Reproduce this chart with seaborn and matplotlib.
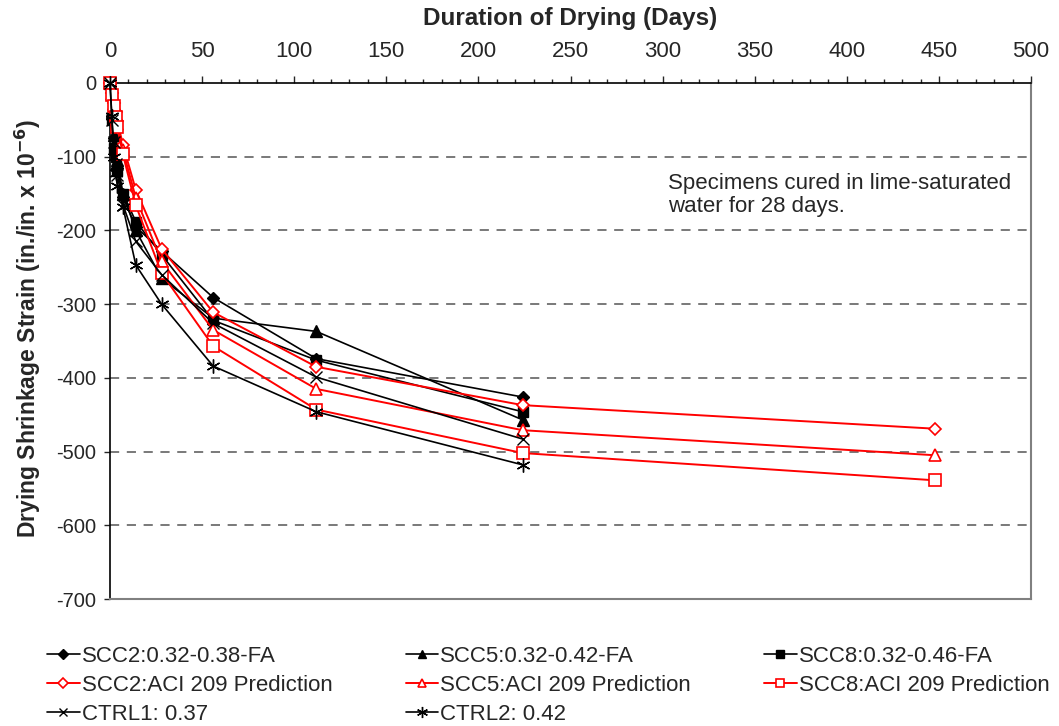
import matplotlib
matplotlib.use("Agg")
import matplotlib.pyplot as plt
from matplotlib.ticker import MultipleLocator
import seaborn as sns

# Measured drying shrinkage (microstrain) and ACI 209 predictions
days_meas = [0, 1, 2, 3, 4, 7, 14, 28, 56, 112, 224]
days_aci = [0, 1, 2, 3, 4, 7, 14, 28, 56, 112, 224, 448]

scc2_meas = [0, -45, -75, -95, -115, -155, -195, -228, -291, -374, -426]
scc5_meas = [0, -40, -70, -90, -105, -150, -200, -265, -319, -337, -457]
scc8_meas = [0, -50, -88, -100, -120, -150, -188, -233, -322, -376, -446]
scc2_aci = [0, -14, -27, -40, -52, -84, -145, -225, -311, -385, -437, -469]
scc5_aci = [0, -15, -29, -43, -56, -91, -156, -242, -335, -415, -471, -505]
scc8_aci = [0, -16, -31, -46, -60, -97, -166, -258, -357, -443, -502, -539]
ctrl1_meas = [0, -50, -80, -110, -125, -165, -215, -260, -326, -399, -483]
ctrl2_meas = [0, -45, -100, -122, -140, -168, -247, -300, -384, -446, -518]

labels = ["SCC2:0.32-0.38-FA", "SCC5:0.32-0.42-FA", "SCC8:0.32-0.46-FA",
          "SCC2:ACI 209 Prediction", "SCC5:ACI 209 Prediction", "SCC8:ACI 209 Prediction",
          "CTRL1: 0.37", "CTRL2: 0.42"]

sns.set_style("ticks")
plt.rcParams["font.family"] = ["Liberation Sans", "DejaVu Sans"]
plt.rcParams["axes.unicode_minus"] = False

fig = plt.figure(figsize=(10.59, 7.26), dpi=100)
ax = fig.add_axes([0.1039, 0.1749, 0.8697, 0.7108])

blk = dict(color="black", mec="black", mfc="black", mew=1.0, lw=1.2)
red = dict(color="red", mec="red", mfc="white", mew=1.2, lw=1.4)
series = [
    (days_meas, scc2_meas, labels[0], dict(marker="D", markersize=6, **blk)),
    (days_meas, scc5_meas, labels[1], dict(marker="^", markersize=8, **blk)),
    (days_meas, scc8_meas, labels[2], dict(marker="s", markersize=7, **blk)),
    (days_aci, scc2_aci, labels[3], dict(marker="D", markersize=6.5, **red)),
    (days_aci, scc5_aci, labels[4], dict(marker="^", markersize=8, **red)),
    (days_aci, scc8_aci, labels[5], dict(marker="s", markersize=8, **red)),
    (days_meas, ctrl1_meas, labels[6], dict(marker="x", markersize=8, **blk)),
    (days_meas, ctrl2_meas, labels[7], dict(marker=(6, 2, 0), markersize=10, **blk)),
]

for x, y, lab, kw in series:
    sns.lineplot(x=x, y=y, ax=ax, label=lab, clip_on=False, zorder=3, **kw)

h, l = ax.get_legend_handles_labels()
hmap = dict(zip(l, h))
ax.get_legend().remove()

ax.set_xlim(0, 500)
ax.set_ylim(-700, 0)
ax.xaxis.set_major_locator(MultipleLocator(50))
ax.xaxis.set_minor_locator(MultipleLocator(10))
ax.yaxis.set_major_locator(MultipleLocator(100))
ax.xaxis.tick_top()
ax.xaxis.set_label_position("top")
ax.tick_params(axis="x", which="major", length=5, width=1, labelsize=16, pad=10, direction="out")
ax.tick_params(axis="x", which="minor", length=3, width=1, direction="out")
ax.tick_params(axis="y", which="major", length=4, width=1, labelsize=14.5, pad=6, direction="out")

for yv in range(-600, 0, 100):
    ax.axhline(yv, color="#555555", lw=1.1, ls=(0, (6, 5)), zorder=1)

for side in ("top", "left"):
    ax.spines[side].set_color("black")
    ax.spines[side].set_linewidth(1.2)
for side in ("right", "bottom"):
    ax.spines[side].set_color("#808080")
    ax.spines[side].set_linewidth(1.5)

ax.set_xlabel("Duration of Drying (Days)", fontsize=17.5, fontweight="bold")
ax.set_ylabel("Drying Shrinkage Strain (in./in. x 10$^{\\mathbf{-6}}$)", fontsize=16.5,
              fontweight="bold")
ax.xaxis.set_label_coords(0.5, 1.125)
ax.xaxis.label.set_va("center")
ax.yaxis.set_label_coords(-0.089, 0.525)
ax.yaxis.label.set_va("center")

ax.text(303, -122, "Specimens cured in lime-saturated\nwater for 28 days.",
        fontsize=16, va="top", ha="left", linespacing=1.15)

order = [labels[0], labels[3], labels[6], labels[1], labels[4], labels[7], labels[2], labels[5]]
fig.legend([hmap[k] for k in order], order, loc="upper left", bbox_to_anchor=(0.03, 0.132),
           ncol=3, frameon=False, fontsize=16, handlelength=1.45, handletextpad=0.1,
           columnspacing=3.3, labelspacing=0.36, markerscale=0.8, borderpad=0.2)

fig.savefig("out.png", dpi=100)
